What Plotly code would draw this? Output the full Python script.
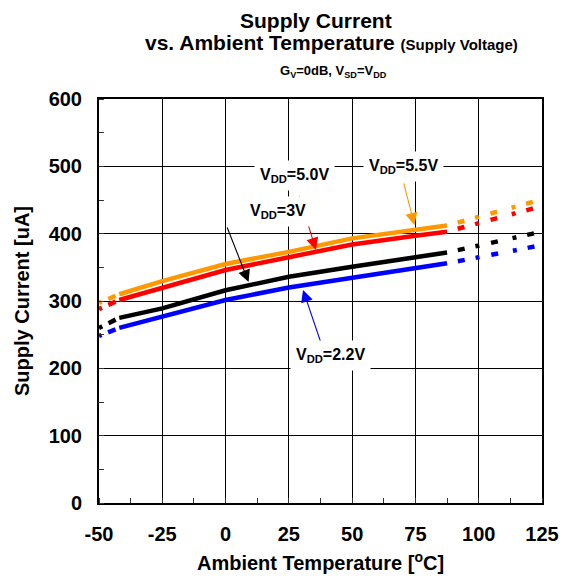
import plotly.graph_objects as go

# temperatures (degC): dashed start, measured solid part, dashed extension
temp_left = [-50, -42]
temp_solid = [-42, -25, 0, 25, 50, 75, 87.5]
temp_right = [87.5, 125]

# supply current [uA] per supply voltage
vdd55_left = [297, 310]
vdd55_solid = [310, 329.5, 355, 373, 393, 405.5, 412]
vdd55_right = [412, 451]

vdd50_left = [288, 301.5]
vdd50_solid = [301.5, 320, 346, 365, 384, 397, 403]
vdd50_right = [403, 441]

vdd3_left = [260, 275]
vdd3_solid = [275, 289, 316, 336, 351, 365, 372]
vdd3_right = [372, 403]

vdd22_left = [248, 260]
vdd22_solid = [260, 277, 301.5, 320, 335, 349.5, 356]
vdd22_right = [356, 383]

x_ticks = [-50, -25, 0, 25, 50, 75, 100, 125]
x_ticktext = ["-50", "-25", "0", "25", "50", "75", "100", "125"]
y_ticks = [0, 100, 200, 300, 400, 500, 600]

FONT = "Arial, Liberation Sans, sans-serif"
LW = 4.5
DASH_LEFT = "0px,4px,8px,7px,4px,30px"
DASH_RIGHT = "0px,11px,7px,11px,4px,12px,7px,15px,4px,11px,7px,40px"

series = [
    ("#000000", vdd3_left, vdd3_solid, vdd3_right),
    ("#0000FF", vdd22_left, vdd22_solid, vdd22_right),
    ("#FF0000", vdd50_left, vdd50_solid, vdd50_right),
    ("#FF9900", vdd55_left, vdd55_solid, vdd55_right),
]

fig = go.Figure()
for color, left, solid, right in series:
    # left piece drawn backwards so the dash pattern starts at the solid end
    fig.add_trace(go.Scatter(x=temp_left[::-1], y=left[::-1], mode="lines",
                             line=dict(color=color, width=LW, dash=DASH_LEFT),
                             showlegend=False, hoverinfo="skip"))
    fig.add_trace(go.Scatter(x=temp_solid, y=solid, mode="lines",
                             line=dict(color=color, width=LW),
                             showlegend=False))
    fig.add_trace(go.Scatter(x=temp_right, y=right, mode="lines",
                             line=dict(color=color, width=LW, dash=DASH_RIGHT),
                             showlegend=False, hoverinfo="skip"))

# arrows: head on the curve, tail offset in pixels
arrows = [
    (35.7, 375.8, -17, -55, "#FF0000"),
    (74.6, 412.9, -11, -43, "#FF9900"),
    (9.1, 328.2, -22, -56, "#000000"),
    (30.6, 316.4, 18, 53, "#0000FF"),
]
for x, y, ax, ay, c in arrows:
    fig.add_annotation(x=x, y=y, ax=ax, ay=ay, text="", showarrow=True,
                       arrowhead=2, arrowsize=2.2, arrowwidth=1.1, arrowcolor=c)

labels = [
    (27.4, 487, "V<sub>DD</sub>=5.0V"),
    (70.2, 499.5, "V<sub>DD</sub>=5.5V"),
    (20.6, 432.6, "V<sub>DD</sub>=3V"),
    (41.6, 219.8, "V<sub>DD</sub>=2.2V"),
]
for x, y, t in labels:
    fig.add_annotation(x=x, y=y, text=t, showarrow=False, bgcolor="white",
                       borderpad=5, xanchor="center", yanchor="middle",
                       font=dict(family=FONT, size=16, color="black", weight="bold"))

# titles
fig.add_annotation(xref="paper", yref="paper", x=0.49, y=1.195, showarrow=False,
                   text="Supply Current", yanchor="middle",
                   font=dict(family=FONT, size=21, color="black", weight="bold"))
fig.add_annotation(xref="paper", yref="paper", x=0.525, y=1.14, showarrow=False,
                   text="vs. Ambient Temperature <span style='font-size:15px'>(Supply Voltage)</span>",
                   yanchor="middle",
                   font=dict(family=FONT, size=21, color="black", weight="bold"))
fig.add_annotation(xref="paper", yref="paper", x=0.53, y=1.068, showarrow=False,
                   text="G<sub>V</sub>=0dB, V<sub>SD</sub>=V<sub>DD</sub>", yanchor="middle",
                   font=dict(family=FONT, size=13, color="black", weight="bold"))

tickfont = dict(family=FONT, size=20, color="black", weight="bold")
fig.update_xaxes(range=[-50, 125], tickvals=x_ticks, ticktext=x_ticktext, showgrid=True,
                 gridcolor="black", gridwidth=1, showline=True, linecolor="black",
                 linewidth=2, mirror=True, automargin=False,
                 zeroline=False, ticks="", tickfont=tickfont, ticklabelstandoff=12,
                 minor=dict(ticks="inside", ticklen=5, tickwidth=1, tickcolor="#333",
                            tick0=-50, dtick=12.5, showgrid=False),
                 title=dict(text="Ambient Temperature [<sup>o</sup>C]", standoff=12,
                            font=dict(family=FONT, size=20, color="black", weight="bold")))
fig.update_yaxes(range=[0, 600], tickvals=y_ticks, showgrid=True, gridcolor="black",
                 gridwidth=1, showline=True, linecolor="black", linewidth=2, mirror=True,
                 zeroline=False, ticks="", tickfont=tickfont, ticklabelstandoff=11,
                 automargin=False,
                 minor=dict(ticks="inside", ticklen=5, tickwidth=1, tickcolor="#333",
                            tick0=0, dtick=50, showgrid=False),
                 title=dict(text="Supply Current [uA]", standoff=14,
                            font=dict(family=FONT, size=20, color="black", weight="bold")))

fig.update_layout(width=569, height=581, margin=dict(l=99, r=27, t=99, b=78),
                  paper_bgcolor="white", plot_bgcolor="white")

# page body has a default 8px margin; drop it so the figure sits at the window origin
fig.write_html("out.html", config={"displayModeBar": False},
               post_script="document.body.style.margin='0';")
